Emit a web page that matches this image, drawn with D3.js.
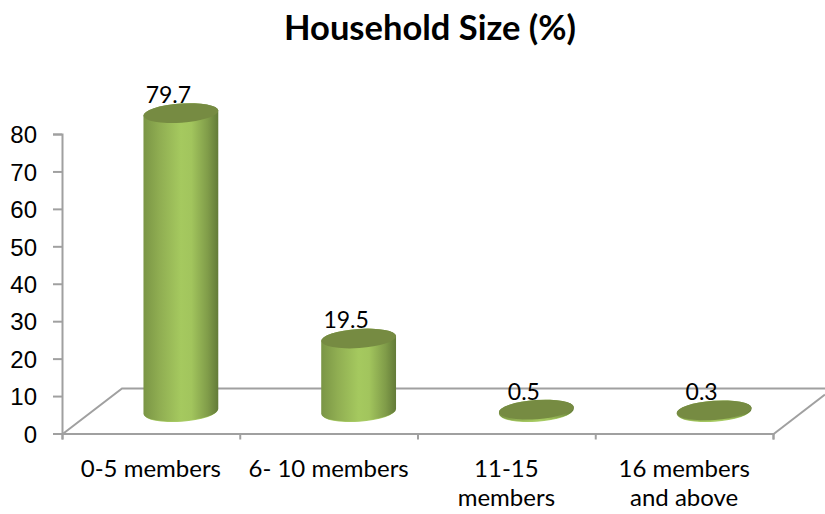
<!DOCTYPE html>
<html>
<head>
<meta charset="utf-8">
<script src="https://cdn.jsdelivr.net/npm/d3@7"></script>
<style>
  html, body { margin: 0; padding: 0; background: #fff; }
  svg { display: block; font-family: Lato, "Open Sans", sans-serif; }
</style>
</head>
<body>
<div id="svg"></div>
<script>
var categories = ["0-5 members", "6- 10 members", "11-15 members", "16 members and above"];
var categoryLines = [["0-5 members"], ["6- 10 members"], ["11-15", "members"], ["16 members", "and above"]];
var values = [79.7, 19.5, 0.5, 0.3];
var valueTicks = [0, 10, 20, 30, 40, 50, 60, 70, 80];

var width = 825, height = 514;
var left = 62, right = 773, bottom = 433.5, top80 = 134;
var depthX = 60, depthY = 45;   // floor depth
var barShiftX = 30, barShiftY = 22;  // bars stand in the middle of the floor
var rx = 37.5, ry = 9.6, tilt = -4;
var grey = "#a0a0a0";

var svg = d3.select("#svg")
  .append("svg")
    .attr("width", width)
    .attr("height", height);

var x = d3.scaleBand().domain(categories).range([left, right]);
var y = d3.scaleLinear().domain([0, 80]).range([bottom, top80]);
var boundary = d3.scaleLinear().domain([0, categories.length]).range([left, right]);

// gradient round the cylinder
var defs = svg.append("defs");
var grad = defs.append("linearGradient").attr("id", "side");
[[0, "#7a9545"], [0.22, "#90ae52"], [0.5, "#a5c95f"], [0.64, "#a2c55d"], [0.86, "#809c49"], [1, "#637b38"]]
  .forEach(function (s) {
    grad.append("stop").attr("offset", s[0]).attr("stop-color", s[1]);
  });

// title
svg.append("text")
  .attr("x", 430)
  .attr("y", 40)
  .attr("text-anchor", "middle")
  .style("font-size", "34.5px")
  .style("font-weight", 700)
  .text("Household Size (%)");

// floor
var floor = svg.append("g")
  .attr("fill", "none")
  .attr("stroke", grey)
  .attr("stroke-width", 2);
floor.append("path").attr("d", d3.line()([
  [left, bottom + 1],
  [left + depthX, bottom - depthY],
  [width, bottom - depthY]
]));
floor.append("path").attr("d", d3.line()([
  [right, bottom + 1],
  [width, bottom - 39]
]));

// y axis
var yAxis = svg.append("g")
  .attr("transform", "translate(" + left + ",0)")
  .call(d3.axisLeft(y).tickValues(valueTicks).tickSize(9).tickPadding(16));
yAxis.selectAll("text").style("font-size", "24px").attr("fill", "#000").attr("y", 1);

// x axis, ticks sit on the category boundaries
var xTicks = svg.append("g")
  .attr("transform", "translate(0," + bottom + ")")
  .call(d3.axisBottom(boundary).ticks(categories.length).tickSize(6).tickFormat(""));

var xLabels = svg.append("g")
  .selectAll("text")
  .data(categories)
  .enter()
  .append("text")
    .attr("text-anchor", "middle")
    .attr("x", function (d) { return x(d) + x.bandwidth() / 2; })
    .attr("y", 477)
    .style("font-size", "24px");
xLabels.each(function (d, i) {
  var t = d3.select(this);
  categoryLines[i].forEach(function (line, k) {
    t.append("tspan")
      .attr("x", x(d) + x.bandwidth() / 2)
      .attr("dy", k === 0 ? 0 : 29)
      .text(line);
  });
});

svg.selectAll(".domain, .tick line")
  .attr("stroke", grey)
  .attr("stroke-width", 2);

// cylinders
var rad = tilt * Math.PI / 180;
var dx = rx * Math.cos(rad), dy = rx * Math.sin(rad);

function cx(d, i) { return x(categories[i]) + x.bandwidth() / 2 + barShiftX; }
function topY(d) { return y(d) - barShiftY; }
var baseY = y(0) - barShiftY;

function body(d, i) {
  var c = cx(d, i), t = topY(d);
  var arc = "A" + rx + "," + ry + " " + tilt + " 0 ";
  return "M" + (c - dx) + "," + (baseY - dy)
    + arc + "0 " + (c + dx) + "," + (baseY + dy)
    + "L" + (c + dx) + "," + (t + dy)
    + arc + "0 " + (c - dx) + "," + (t - dy) + "Z";
}

var bars = svg.append("g")
  .selectAll("g")
  .data(values)
  .enter()
  .append("g");

// bright rim along the bottom edge
bars.append("ellipse")
  .attr("rx", rx - 1)
  .attr("ry", ry)
  .attr("transform", function (d, i) {
    return "translate(" + cx(d, i) + "," + (baseY + 0.7) + ") rotate(" + tilt + ")";
  })
  .attr("fill", "#a9cc66");

bars.append("path")
  .attr("d", body)
  .attr("fill", "url(#side)");

bars.append("ellipse")
  .attr("rx", rx)
  .attr("ry", ry)
  .attr("transform", function (d, i) {
    return "translate(" + cx(d, i) + "," + topY(d) + ") rotate(" + tilt + ")";
  })
  .attr("fill", "#768b42");

// value labels
svg.append("g")
  .selectAll("text")
  .data(values)
  .enter()
  .append("text")
    .attr("text-anchor", "middle")
    .attr("x", function (d, i) { return cx(d, i) - 12.5; })
    .attr("y", function (d) { return topY(d) - 10; })
    .style("font-size", "23px")
    .text(function (d) { return d; });
</script>
</body>
</html>
